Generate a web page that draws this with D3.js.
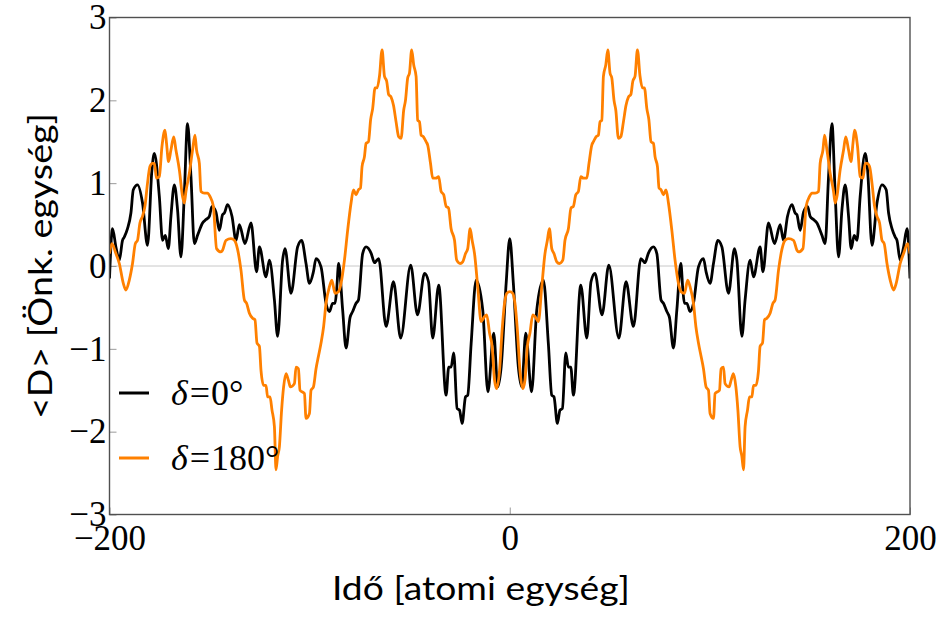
<!DOCTYPE html>
<html>
<head>
<meta charset="utf-8">
<script src="https://cdn.jsdelivr.net/npm/d3@7"></script>
<style>
  body { margin: 0; background: #fff; }
  svg { display: block; }
</style>
</head>
<body>
<div id="chart"></div>
<script>
// <D> vs time, two phase values. values
const xTicks = [-200, 0, 200];
const yTicks = [-3, -2, -1, 0, 1, 2, 3];
const seriesNames = ['0°', '180°'];
const seriesColors = ['#000000', '#ff8000'];

// δ = 0°  [time, <D>]
const delta0 = [
  [-200, -0.15], [-198.5, 0.45], [-196.8, 0.23], [-195.1, 0.07], [-193.5, 0.31], [-192.6, 0.35],
  [-191, 0.45], [-189.3, 0.64], [-188.1, 0.92], [-186, 0.98], [-183.5, 0.76], [-181, 0.25],
  [-178.8, 1.16], [-177.6, 1.36], [-175.1, 0.84], [-173.5, 0.31], [-172.1, 0.37], [-170.6, 0.21],
  [-169.3, 0.60], [-167.6, 0.98], [-166, 0.68], [-164.3, 0.11], [-162.6, 0.88], [-161, 1.72],
  [-159.3, 1.08], [-157.6, 0.27], [-156, 0.37], [-155.1, 0.43], [-153.5, 0.52], [-151.8, 0.56],
  [-150.1, 0.60], [-148.8, 0.72], [-146.8, 0.65], [-145.1, 0.43], [-143.5, 0.62], [-142.6, 0.64],
  [-141, 0.74], [-138.8, 0.60], [-136.8, 0.31], [-135.1, 0.50], [-132.3, 0.27], [-129.3, 0.52],
  [-126.5, -0.07], [-125.1, 0.23], [-121.8, -0.13], [-120.1, 0.07], [-117.6, -0.41], [-116, -0.85],
  [-113.5, 0.07], [-112.3, 0.21], [-109.3, -0.33], [-106, 0.23], [-104, 0.31], [-101.8, 0.03],
  [-100.1, -0.21], [-98.1, -0.07], [-96.8, 0.09], [-94.3, -0.01], [-91.8, -0.45], [-90.1, -0.55],
  [-88.5, -0.45], [-87.3, -0.45], [-86.5, -0.29], [-85.5, 0.03], [-83.5, -0.53], [-81.8, -0.99],
  [-79.8, -0.62], [-78.5, -0.55], [-76.8, -0.45], [-75.6, -0.41], [-73.5, 0.15], [-71.8, 0.23],
  [-69.2, 0.15], [-67.6, 0.04], [-65.5, 0.09], [-61.8, -0.73], [-58.1, -0.19], [-54.5, -0.87],
  [-49.5, 0.01], [-46.1, -0.59], [-42.6, -0.09], [-40.6, -0.19], [-38.5, -0.87], [-35.5, -0.23],
  [-31.8, -1.56], [-30.5, -1.22], [-29.3, -1.22], [-28, -1.05], [-26.3, -1.72], [-25.1, -1.74],
  [-23.8, -1.90], [-22.1, -1.58], [-21, -1.56], [-19.3, -0.94], [-16.8, -0.17], [-13.5, -0.53],
  [-10.9, -1.52], [-8, -0.81], [-6, -1.46], [-4.3, -1.22], [-1.8, -0.21],
  [0, 0.33],
  [1.8, -0.21], [4.3, -1.22], [6, -1.46], [8, -0.81], [10.9, -1.52], [13.5, -0.53],
  [16.8, -0.17], [19.3, -0.94], [21, -1.56], [22.1, -1.58], [23.8, -1.90], [25.1, -1.74],
  [26.3, -1.72], [28, -1.05], [29.3, -1.22], [30.5, -1.22], [31.8, -1.56], [35.5, -0.23],
  [38.5, -0.87], [40.6, -0.19], [42.6, -0.09], [46.1, -0.59], [49.5, 0.01], [54.5, -0.87],
  [58.1, -0.19], [61.8, -0.73], [65.5, 0.09], [67.6, 0.04], [69.2, 0.15], [71.8, 0.23],
  [73.5, 0.15], [75.6, -0.41], [76.8, -0.45], [78.5, -0.55], [79.8, -0.62], [81.8, -0.99],
  [83.5, -0.53], [85.5, 0.03], [86.5, -0.29], [87.3, -0.45], [88.5, -0.45], [90.1, -0.55],
  [91.8, -0.45], [94.3, -0.01], [96.8, 0.09], [98.1, -0.07], [100.1, -0.21], [101.8, 0.03],
  [104, 0.31], [106, 0.23], [109.3, -0.33], [112.3, 0.21], [113.5, 0.07], [116, -0.85],
  [117.6, -0.41], [120.1, 0.07], [121.8, -0.13], [125.1, 0.23], [126.5, -0.07], [129.3, 0.52],
  [132.3, 0.27], [135.1, 0.50], [136.8, 0.31], [138.8, 0.60], [141, 0.74], [142.6, 0.64],
  [143.5, 0.62], [145.1, 0.43], [146.8, 0.65], [148.8, 0.72], [150.1, 0.60], [151.8, 0.56],
  [153.5, 0.52], [155.1, 0.43], [156, 0.37], [157.6, 0.27], [159.3, 1.08], [161, 1.72],
  [162.6, 0.88], [164.3, 0.11], [166, 0.68], [167.6, 0.98], [169.3, 0.60], [170.6, 0.21],
  [172.1, 0.37], [173.5, 0.31], [175.1, 0.84], [177.6, 1.36], [178.8, 1.16], [181, 0.25],
  [183.5, 0.76], [186, 0.98], [188.1, 0.92], [189.3, 0.64], [191, 0.45], [192.6, 0.35],
  [193.5, 0.31], [195.1, 0.07], [196.8, 0.23], [198.5, 0.45], [200, -0.15]
];

// δ = 180°  [time, <D>]
const delta180 = [
  [-200, 0.15], [-198.8, 0.27], [-196.8, 0.15], [-195.1, 0.03], [-193.1, -0.21], [-191.8, -0.29],
  [-190.1, -0.17], [-188.5, 0.03], [-187.1, 0.27], [-186, 0.31], [-184.8, 0.52], [-183.5, 0.60],
  [-182.3, 0.72], [-181, 1.00], [-179.8, 1.20], [-178.5, 1.24], [-177.6, 1.24], [-176.5, 1.06],
  [-175.1, 1.08], [-173.8, 1.44], [-172.3, 1.64], [-171.5, 1.48], [-170.5, 1.26], [-169.3, 1.40],
  [-167.9, 1.56], [-166.8, 1.40], [-165.1, 1.16], [-163.5, 0.84], [-162.6, 0.76], [-161.8, 0.90],
  [-160.1, 1.12], [-158.5, 1.40], [-157.3, 1.58], [-156.5, 1.40], [-155.1, 1.24], [-154.3, 0.90],
  [-152.6, 0.88], [-151, 0.88], [-149.8, 0.84], [-148.1, 0.72], [-146.5, 0.21], [-144.3, 0.17],
  [-143.5, 0.19], [-141.8, 0.31], [-139.3, 0.33], [-137.6, 0.31], [-136, 0.20], [-134.3, -0.05],
  [-132.6, -0.41], [-131.5, -0.45], [-130.1, -0.57], [-128.5, -0.63], [-127.3, -0.65], [-126.3, -0.93],
  [-125.1, -0.97], [-124.3, -1.26], [-123, -1.44], [-121.8, -1.44], [-121, -1.58], [-119.8, -1.58],
  [-118.8, -1.74], [-117.6, -1.94], [-116.8, -2.46], [-116, -2.30], [-115.1, -2.18], [-114, -1.74],
  [-113, -1.46], [-111.8, -1.30], [-110.6, -1.38], [-109.6, -1.46], [-107.6, -1.42], [-106.8, -1.22],
  [-105.6, -1.24], [-104.8, -1.50], [-102.6, -1.54], [-101.8, -1.84], [-100.1, -1.78], [-99.3, -1.50],
  [-98.1, -1.46], [-96.8, -1.24], [-95.6, -1.09], [-94.3, -0.93], [-93, -0.73], [-91.8, -0.45],
  [-90.1, -0.25], [-88.9, -0.17], [-87.3, -0.33], [-85.6, -0.31], [-84.3, -0.21], [-82.6, 0.07],
  [-81, 0.43], [-79.3, 0.76], [-78.1, 0.92], [-76.8, 0.86], [-75.6, 0.92], [-74.6, 0.94],
  [-73.8, 1.20], [-72.6, 1.32], [-71.8, 1.48], [-70.6, 1.50], [-69.5, 1.77], [-68.5, 1.90],
  [-67.3, 2.15], [-66.3, 2.15], [-65.1, 2.29], [-63.8, 2.61], [-62.6, 2.29], [-61.5, 2.23],
  [-60.5, 2.07], [-59.3, 2.04], [-58.1, 1.94], [-56.8, 1.74], [-55.5, 1.56], [-54.3, 1.54],
  [-53, 1.88], [-52.1, 2.00], [-51, 2.27], [-50.1, 2.33], [-49, 2.61], [-48, 2.43],
  [-46.8, 2.29], [-46, 1.76], [-45.1, 1.74], [-44.3, 1.58], [-43.1, 1.56], [-41.8, 1.50],
  [-41, 1.46], [-39.6, 1.24], [-38.5, 1.06], [-36.8, 1.06], [-35.5, 1.08], [-34.3, 0.90],
  [-33, 0.86], [-31.8, 0.72], [-30.6, 0.70], [-29.3, 0.45], [-27.6, 0.31], [-26.5, 0.07],
  [-24.8, 0.03], [-23.5, 0.05], [-22.1, 0.15], [-21, 0.21], [-19.8, 0.45], [-18.8, 0.31],
  [-17.6, 0.15], [-16, -0.25], [-14.3, -0.67], [-12.6, -0.61], [-11.5, -0.59], [-10.1, -0.81],
  [-8.8, -0.97], [-7.6, -1.38], [-6.5, -1.48], [-5.1, -1.26], [-3.8, -0.77], [-2.6, -0.45],
  [-1.5, -0.33],
  [0, -0.31],
  [1.5, -0.33], [2.6, -0.45], [3.8, -0.77], [5.1, -1.26], [6.5, -1.48], [7.6, -1.38],
  [8.8, -0.97], [10.1, -0.81], [11.5, -0.59], [12.6, -0.61], [14.3, -0.67], [16, -0.25],
  [17.6, 0.15], [18.8, 0.31], [19.8, 0.45], [21, 0.21], [22.1, 0.15], [23.5, 0.05],
  [24.8, 0.03], [26.5, 0.07], [27.6, 0.31], [29.3, 0.45], [30.6, 0.70], [31.8, 0.72],
  [33, 0.86], [34.3, 0.90], [35.5, 1.08], [36.8, 1.06], [38.5, 1.06], [39.6, 1.24],
  [41, 1.46], [41.8, 1.50], [43.1, 1.56], [44.3, 1.58], [45.1, 1.74], [46, 1.76],
  [46.8, 2.29], [48, 2.43], [49, 2.61], [50.1, 2.33], [51, 2.27], [52.1, 2.00],
  [53, 1.88], [54.3, 1.54], [55.5, 1.56], [56.8, 1.74], [58.1, 1.94], [59.3, 2.04],
  [60.5, 2.07], [61.5, 2.23], [62.6, 2.29], [63.8, 2.61], [65.1, 2.29], [66.3, 2.15],
  [67.3, 2.15], [68.5, 1.90], [69.5, 1.77], [70.6, 1.50], [71.8, 1.48], [72.6, 1.32],
  [73.8, 1.20], [74.6, 0.94], [75.6, 0.92], [76.8, 0.86], [78.1, 0.92], [79.3, 0.76],
  [81, 0.43], [82.6, 0.07], [84.3, -0.21], [85.6, -0.31], [87.3, -0.33], [88.9, -0.17],
  [90.1, -0.25], [91.8, -0.45], [93, -0.73], [94.3, -0.93], [95.6, -1.09], [96.8, -1.24],
  [98.1, -1.46], [99.3, -1.50], [100.1, -1.78], [101.8, -1.84], [102.6, -1.54], [104.8, -1.50],
  [105.6, -1.24], [106.8, -1.22], [107.6, -1.42], [109.6, -1.46], [110.6, -1.38], [111.8, -1.30],
  [113, -1.46], [114, -1.74], [115.1, -2.18], [116, -2.30], [116.8, -2.46], [117.6, -1.94],
  [118.8, -1.74], [119.8, -1.58], [121, -1.58], [121.8, -1.44], [123, -1.44], [124.3, -1.26],
  [125.1, -0.97], [126.3, -0.93], [127.3, -0.65], [128.5, -0.63], [130.1, -0.57], [131.5, -0.45],
  [132.6, -0.41], [134.3, -0.05], [136, 0.20], [137.6, 0.31], [139.3, 0.33], [141.8, 0.31],
  [143.5, 0.19], [144.3, 0.17], [146.5, 0.21], [148.1, 0.72], [149.8, 0.84], [151, 0.88],
  [152.6, 0.88], [154.3, 0.90], [155.1, 1.24], [156.5, 1.40], [157.3, 1.58], [158.5, 1.40],
  [160.1, 1.12], [161.8, 0.90], [162.6, 0.76], [163.5, 0.84], [165.1, 1.16], [166.8, 1.40],
  [167.9, 1.56], [169.3, 1.40], [170.5, 1.26], [171.5, 1.48], [172.3, 1.64], [173.8, 1.44],
  [175.1, 1.08], [176.5, 1.06], [177.6, 1.24], [178.5, 1.24], [179.8, 1.20], [181, 1.00],
  [182.3, 0.72], [183.5, 0.60], [184.8, 0.52], [186, 0.31], [187.1, 0.27], [188.5, 0.03],
  [190.1, -0.17], [191.8, -0.29], [193.1, -0.21], [195.1, 0.03], [196.8, 0.15], [198.8, 0.27],
  [200, 0.15]
];

const width = 942;
const height = 617;
const plotLeft = 109.5, plotRight = 910, plotTop = 17.5, plotBottom = 514.5;

const serif = '"Liberation Serif", "DejaVu Serif", serif';
const sans = 'Lato, "Open Sans", sans-serif';

const svg = d3.select('#chart')
.append('svg')
.attr('width', width)
.attr('height', height);

let x = d3.scaleLinear().domain([-200, 200]).range([plotLeft, plotRight]);
let y = d3.scaleLinear().domain([-3, 3]).range([plotBottom, plotTop]);

svg.append('clipPath')
.attr('id', 'plot-clip')
.append('rect')
.attr('x', plotLeft)
.attr('y', plotTop)
.attr('width', plotRight - plotLeft)
.attr('height', plotBottom - plotTop);

// zero line
svg.append('line')
.attr('x1', plotLeft)
.attr('x2', plotRight)
.attr('y1', y(0))
.attr('y2', y(0))
.attr('stroke', '#c8c8c8')
.attr('stroke-width', 1);

// ticks inside the frame
const yAxis = svg.append('g')
.attr('transform', `translate(${plotLeft},0)`)
.call(d3.axisLeft(y).tickValues(yTicks).tickFormat(d3.format('d')).tickSize(-7).tickPadding(3));

const xAxis = svg.append('g')
.attr('transform', `translate(0,${plotBottom})`)
.call(d3.axisBottom(x).tickValues(xTicks).tickFormat(d3.format('d')).tickSize(-7).tickPadding(11));

[xAxis, yAxis].forEach(g => {
	g.select('.domain').remove();
	g.selectAll('line').attr('stroke', '#9a9a9a').attr('stroke-width', 1);
	g.selectAll('text')
	.attr('fill', '#000')
	.style('font-family', serif)
	.style('font-size', '35px');
});

const line = d3.line()
.x(d => x(d[0]))
.y(d => y(d[1]))
.curve(d3.curveMonotoneX);

const plot = svg.append('g').attr('clip-path', 'url(#plot-clip)');

[delta0, delta180].forEach((s, i) => {
	plot.append('path')
	.datum(s)
	.attr('d', line)
	.attr('fill', 'none')
	.attr('stroke', seriesColors[i])
	.attr('stroke-width', 2.8)
	.attr('stroke-linejoin', 'round');
});

// frame
svg.append('rect')
.attr('x', plotLeft)
.attr('y', plotTop)
.attr('width', plotRight - plotLeft)
.attr('height', plotBottom - plotTop)
.attr('fill', 'none')
.attr('stroke', '#505050')
.attr('stroke-width', 1.4);

// legend
const legend = svg.append('g');
seriesNames.forEach((name, i) => {
	const ly = 393 + i * 65;
	legend.append('line')
	.attr('x1', 119)
	.attr('x2', 149)
	.attr('y1', ly)
	.attr('y2', ly)
	.attr('stroke', seriesColors[i])
	.attr('stroke-width', 3);

	const t = legend.append('text')
	.attr('x', 171)
	.attr('y', ly + 12)
	.style('font-family', serif)
	.style('font-size', '36px');
	t.append('tspan').attr('font-style', 'italic').text('δ');
	t.append('tspan').attr('dx', 2).text('=');
	t.append('tspan').attr('dx', 1).text(name);
});

// axis titles
svg.append('text')
.attr('x', 481)
.attr('y', 600)
.attr('text-anchor', 'middle')
.attr('textLength', 298)
.attr('lengthAdjust', 'spacingAndGlyphs')
.style('font-family', sans)
.style('font-size', '32px')
.text('Idő [atomi egység]');

svg.append('text')
.attr('transform', 'translate(52,266) rotate(-90)')
.attr('text-anchor', 'middle')
.attr('textLength', 306)
.attr('lengthAdjust', 'spacingAndGlyphs')
.style('font-family', sans)
.style('font-size', '32px')
.text('<D> [Önk. egység]');
</script>
</body>
</html>
